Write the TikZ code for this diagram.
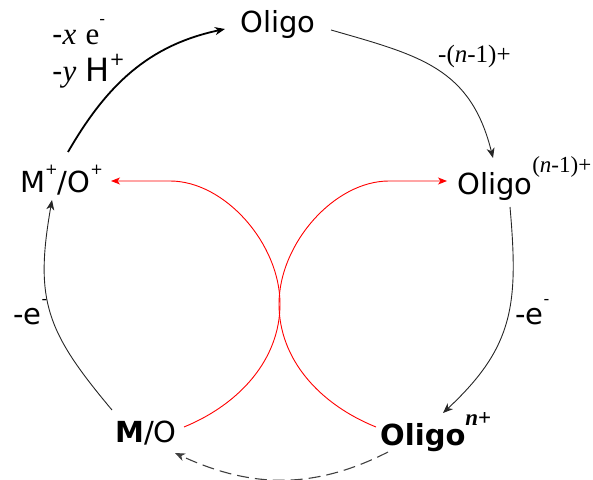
\documentclass[tikz,border=0pt]{standalone}
\usepackage{fontspec}
\setmainfont{DejaVu Sans}
\newfontfamily\tms{Liberation Serif}
\usetikzlibrary{arrows.meta}
\begin{document}
\begin{tikzpicture}[x=1pt,y=1pt,
  lbl/.style={inner sep=0pt, anchor=base west, font=\fontsize{29}{31}\selectfont},
  blackarrow/.style={draw=black!85, line width=0.9pt, -{Stealth[length=10pt,width=8pt,inset=3pt]}},
  thickarrow/.style={draw=black, line width=1.8pt, -{Stealth[length=10pt,width=8pt,inset=3pt]}},
  dasharrow/.style={draw=black!75, line width=1.1pt, dash pattern=on 12pt off 6pt, -{Stealth[length=10pt,width=8pt,inset=3pt]}},
  redarrow/.style={draw=red, line width=0.9pt, -{Stealth[length=9pt,width=7pt,inset=2.5pt]}}
]
\useasboundingbox (0,0) rectangle (593,479);
\node[lbl] (top) at (240,446) {Oligo};
\node[lbl] (mop) at (20,286) {M\raisebox{18pt}{\fontsize{15}{15}\selectfont +}/O\raisebox{18pt}{\fontsize{15}{15}\selectfont +}};
\node[lbl] (oln1) at (457,284) {Oligo\raisebox{22pt}{\tms\fontsize{23}{23}\selectfont(\textit{n}-1)+}};
\node[lbl] (mo) at (115,37) {\textbf{M}/O};
\node[lbl] (oln) at (380,34) {\textbf{Oligo}\raisebox{20pt}{\tms\fontsize{23}{23}\selectfont\bfseries\itshape n\upshape+}};

\node[lbl] (lxe) at (52,434) {-{\tms\fontsize{31}{31}\selectfont\itshape x} {\tms\fontsize{31}{31}\selectfont e}\raisebox{20pt}{\fontsize{16}{16}\selectfont -}};
\node[lbl] (lyh) at (52,397) {-{\tms\fontsize{31}{31}\selectfont\itshape y} {\fontsize{32}{32}\selectfont H}\raisebox{16pt}{\fontsize{18}{18}\selectfont +}};
\node[lbl] (ln1) at (438,416) {\tms\fontsize{25}{25}\selectfont -(\textit{n}-1)+};
\node[lbl] (lel) at (13,154) {-e\raisebox{20pt}{\fontsize{16}{16}\selectfont -}};
\node[lbl] (ler) at (515,154) {-e\raisebox{20pt}{\fontsize{16}{16}\selectfont -}};

\draw[thickarrow] ([shift={(48,41)}]mop.base west) to[out=60,in=192] ([shift={(-15,4)}]top.base west);
\draw[blackarrow] ([shift={(91,3)}]top.base west) to[out=-16,in=104,looseness=1.15] ([shift={(36,37)}]oln1.base west);
\draw[blackarrow] ([shift={(53,-12)}]oln1.base west) to[out=-85,in=43,looseness=1.15] ([shift={(63,32)}]oln.base west);
\draw[blackarrow] ([shift={(-3,32)}]mo.base west) to[out=130,in=260,looseness=1.2] ([shift={(32,-7)}]mop.base west);
\draw[dasharrow] ([shift={(8,-7)}]oln.base west) to[out=207,in=-25] ([shift={(60,-11)}]mo.base west);
\draw[redarrow] ([shift={(69,15)}]mo.base west) .. controls (240,75) and (280,120) .. (280,175)
  .. controls (280,235) and (225,298) .. (170,298) -- ([shift={(91,12)}]mop.base west);
\draw[redarrow] ([shift={(-4,18)}]oln.base west) .. controls (319,75) and (279,120) .. (279,175)
  .. controls (279,235) and (334,298) .. (389,298) -- ([shift={(-10,14)}]oln1.base west);
\end{tikzpicture}
\end{document}
